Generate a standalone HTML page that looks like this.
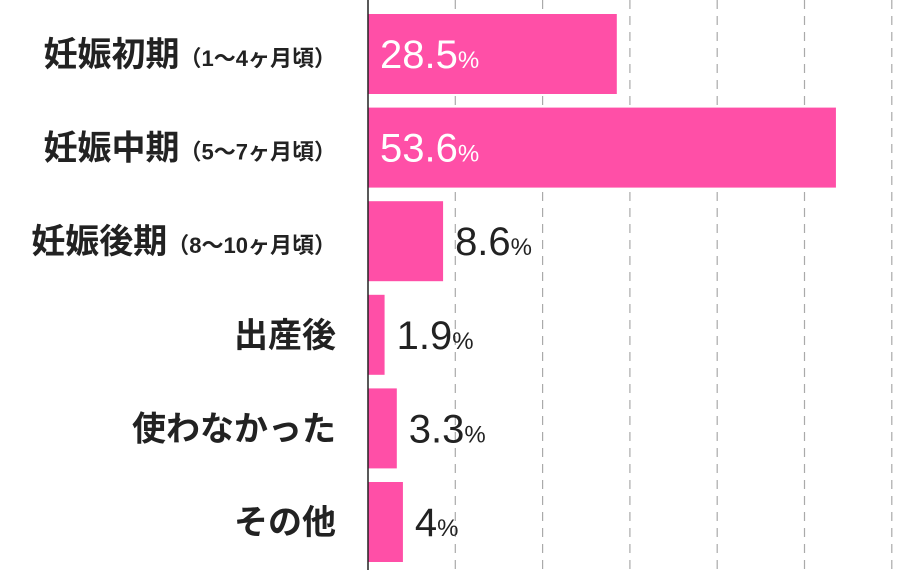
<!DOCTYPE html>
<html><head><meta charset="utf-8">
<style>
html,body{margin:0;padding:0;background:#fff;}
svg{display:block;}
text{font-family:"Liberation Sans","Noto Sans CJK JP",sans-serif;}
</style></head>
<body>
<svg id="chart" width="900" height="587" viewBox="0 0 900 587" xmlns="http://www.w3.org/2000/svg"></svg>
<script>
const categories = ["妊娠初期","妊娠中期","妊娠後期","出産後","使わなかった","その他"];
const subLabels = ["（1〜4ヶ月頃）","（5〜7ヶ月頃）","（8〜10ヶ月頃）","","",""];
const values = [28.5, 53.6, 8.6, 1.9, 3.3, 4];
const valueLabels = ["28.5","53.6","8.6","1.9","3.3","4"];
const gridTicks = [10,20,30,40,50,60];

const svg = document.getElementById('chart');
const NS = 'http://www.w3.org/2000/svg';
const x0 = 368, pxPerUnit = 8.73;
const xScale = v => x0 + v * pxPerUnit;
const rowTop = 14, rowPitch = 93.6, barH = 80;
const yScale = i => rowTop + i * rowPitch;

function mk(tag, attrs){ const e=document.createElementNS(NS,tag); for(const k in attrs) e.setAttribute(k,attrs[k]); svg.appendChild(e); return e; }

gridTicks.forEach(t=>{
  const g = mk('line',{x1:xScale(t),x2:xScale(t),y1:0,y2:570,stroke:'#aaa','stroke-width':1.2,'stroke-dasharray':'9,7'});
  
  
});

values.forEach((v,i)=>{
  const y = yScale(i);
  const r = mk('rect',{x:x0,y:y,width:v*pxPerUnit,height:barH,fill:'#ff4fa7'});
  
  

  const inside = v > 20;
  const t = mk('text',{x: inside ? x0+12 : xScale(v)+12, y: y+barH/2+14, fill: inside?'#fff':'#222','font-size':40});
  
  
  t.textContent = valueLabels[i];
  const ts = document.createElementNS(NS,'tspan');
  ts.setAttribute('font-size','24');
  ts.textContent = '%';
  t.appendChild(ts);

  const lab = mk('text',{x:336,y:y+barH/2+12,'text-anchor':'end',fill:'#222','font-size':34,'font-weight':'bold'});
  
  
  lab.textContent = categories[i];
  if(subLabels[i]){
    const s = document.createElementNS(NS,'tspan');
    s.setAttribute('font-size','22');
    s.textContent = subLabels[i];
    lab.appendChild(s);
  }
});

const ax = mk('line',{x1:x0,x2:x0,y1:0,y2:570,stroke:'#222','stroke-width':1.5});


</script>
</body></html>
